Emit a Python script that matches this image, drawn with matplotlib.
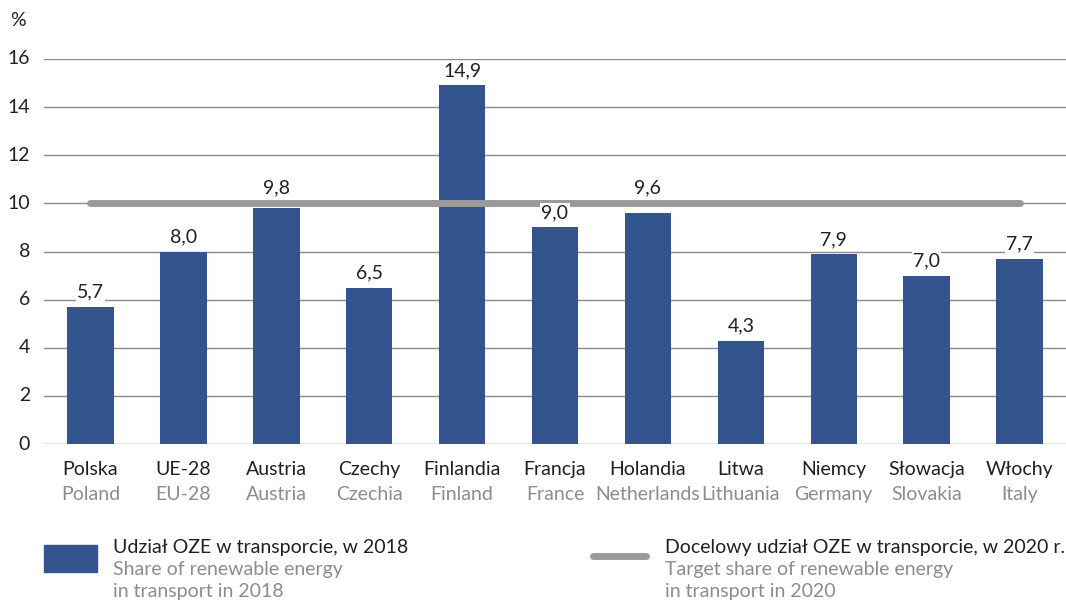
import matplotlib
matplotlib.use("Agg")
import matplotlib.pyplot as plt
from matplotlib.patches import Rectangle
from matplotlib.lines import Line2D

categories_pl = ["Polska", "UE-28", "Austria", "Czechy", "Finlandia", "Francja",
                 "Holandia", "Litwa", "Niemcy", "Słowacja", "Włochy"]
categories_en = ["Poland", "EU-28", "Austria", "Czechia", "Finland", "France",
                 "Netherlands", "Lithuania", "Germany", "Slovakia", "Italy"]
share_2018 = [5.7, 8.0, 9.8, 6.5, 14.9, 9.0, 9.6, 4.3, 7.9, 7.0, 7.7]
target_2020 = 10
yticks = [0, 2, 4, 6, 8, 10, 12, 14, 16]

BAR = "#34548f"
TARGET = "#9a9a9a"
GRID = "#8a8a8a"
DARK = "#231f20"
LIGHT = "#8c8c8c"
FS = 14
plt.rcParams['font.family'] = ['Lato', 'DejaVu Sans']

W, H = 1066, 603
fig = plt.figure(figsize=(W / 100, H / 100), dpi=100)
ax = fig.add_axes([44 / W, 1 - 444 / H, (W - 44) / W, (444 - 59) / H])

x = list(range(len(share_2018)))
ax.set_xlim(-0.5, len(x) - 0.5)
ax.set_ylim(0, 16)
for t in yticks:
    ax.axhline(t, color=GRID, lw=1.0, zorder=0)
ax.bar(x, share_2018, width=0.5, color=BAR, zorder=2)
ax.plot([x[0], x[-1]], [target_2020, target_2020], color=TARGET, lw=5,
        solid_capstyle='round', zorder=3)

for xi, v in zip(x, share_2018):
    y = v + 0.25
    # keep labels clear of the target line
    if target_2020 - 0.5 < y < target_2020 + 0.3:
        y = target_2020 + 0.3
    ax.text(xi, y, f"{v:.1f}".replace(".", ","), ha='center', va='bottom',
            fontsize=FS, color=DARK, zorder=4,
            bbox=dict(facecolor='white', edgecolor='none', pad=1.0))

for s in ax.spines.values():
    s.set_visible(False)
ax.set_xticks([])
ax.set_yticks([])
for t in yticks:
    fig.text(30 / W, 1 - (444 - t * (385 / 16)) / H, str(t), ha='right', va='center',
             fontsize=FS, color=DARK)
fig.text(10 / W, 1 - 20 / H, "%", ha='left', va='center', fontsize=FS, color=DARK)

for xi, pl, en in zip(x, categories_pl, categories_en):
    ax.text(xi, -1.08, pl, ha='center', va='center', fontsize=FS, color=DARK)
    ax.text(xi, -2.08, en, ha='center', va='center', fontsize=FS, color=LIGHT)

# legend
fig.patches.append(Rectangle((44 / W, 1 - 572 / H), 53 / W, 27 / H,
                             transform=fig.transFigure, color=BAR))
fig.text(113 / W, 1 - 548 / H, "Udział OZE w transporcie, w 2018", ha='left',
         va='center', fontsize=FS, color=DARK)
fig.text(113 / W, 1 - 570 / H, "Share of renewable energy", ha='left',
         va='center', fontsize=FS, color=LIGHT)
fig.text(113 / W, 1 - 592 / H, "in transport in 2018", ha='left',
         va='center', fontsize=FS, color=LIGHT)

fig.lines.append(Line2D([593 / W, 646 / W], [1 - 556 / H, 1 - 556 / H],
                        transform=fig.transFigure, color=TARGET, lw=5,
                        solid_capstyle='round'))
fig.text(665 / W, 1 - 548 / H, "Docelowy udział OZE w transporcie, w 2020 r.",
         ha='left', va='center', fontsize=FS, color=DARK)
fig.text(665 / W, 1 - 570 / H, "Target share of renewable energy", ha='left',
         va='center', fontsize=FS, color=LIGHT)
fig.text(665 / W, 1 - 592 / H, "in transport in 2020", ha='left',
         va='center', fontsize=FS, color=LIGHT)

fig.savefig("out.png", dpi=100)
